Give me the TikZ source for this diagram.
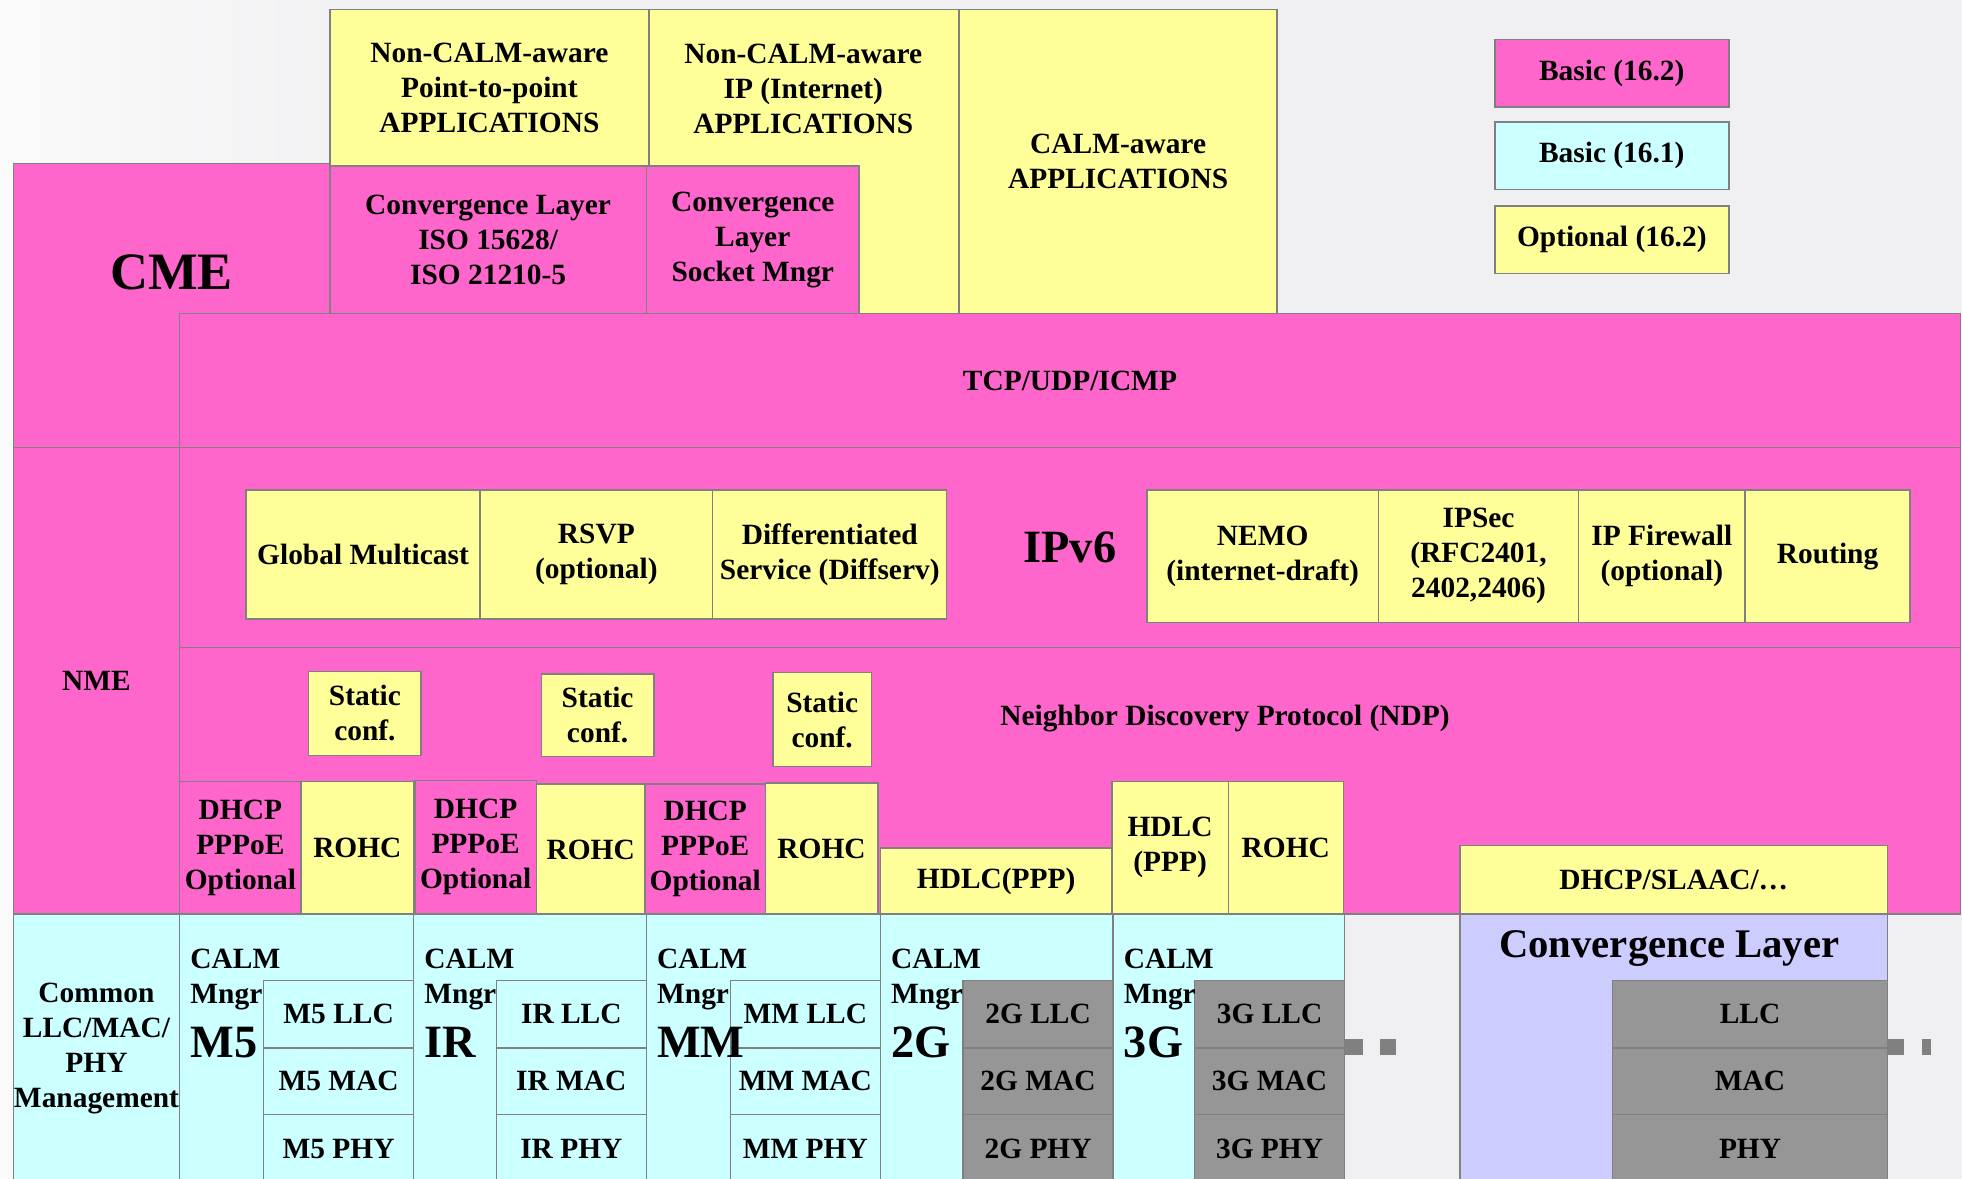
\documentclass[tikz,border=0pt]{standalone}
\usepackage{fontspec}
\setmainfont{Liberation Serif}
\definecolor{pinkc}{HTML}{FF66CC}
\definecolor{yelc}{HTML}{FFFF99}
\definecolor{cyanc}{HTML}{CCFFFF}
\definecolor{lavc}{HTML}{CCCCFF}
\definecolor{grayc}{HTML}{969696}
\definecolor{edgec}{HTML}{808080}
\definecolor{bgc}{HTML}{F0F0F2}
\tikzset{
  blk/.style={draw=edgec, line width=1.2pt, inner sep=0pt, anchor=north west,
    align=center, font=\fontsize{23.5}{28}\selectfont\bfseries},
  sz/.style 2 args={minimum width=#1pt, minimum height=#2pt},
  pk/.style={blk, fill=pinkc},
  yl/.style={blk, fill=yelc},
  cy/.style={blk, fill=cyanc},
  gr/.style={blk, fill=grayc},
  txt/.style={inner sep=0pt, align=center, font=\fontsize{23.5}{28}\selectfont\bfseries},
  bigtxt/.style={inner sep=0pt, font=\fontsize{37}{37}\selectfont\bfseries}
}
\begin{document}
\begin{tikzpicture}[x=1pt, y=-1pt]
    \useasboundingbox (0,0) rectangle (1568,942);
    \clip (0,0) rectangle (1568,942);
    \fill[bgc] (0,0) rectangle (1568,942);
    \shade[left color=white!70!bgc, right color=bgc] (0,0) rectangle (330,942);

    \node[yl, sz={248}{243}] (ipapps) at (518,7) {};
    \node[txt] (ipappstxt) at (642,71) {Non-CALM-aware\\IP (Internet)\\APPLICATIONS};
    \node[yl, sz={254}{243}] (calmapps) at (766,7) {CALM-aware\\APPLICATIONS};
    \node[yl, sz={255}{125}] (p2papps) at (263,7) {Non-CALM-aware\\Point-to-point\\APPLICATIONS};

    \node[pk, sz={187}{54}] (leg162) at (1194,31) {Basic (16.2)};
    \node[cy, sz={187}{54}] (leg161) at (1194,97) {Basic (16.1)};
    \node[yl, sz={187}{54}] (legopt) at (1194,164) {Optional (16.2)};

    \node[pk, sz={253}{227}] (cme) at (10,130) {};
    \node[inner sep=0pt, font=\fontsize{42}{42}\selectfont\bfseries] (cmetxt) at (137,218) {CME};
    \node[pk, sz={253}{118}] (cliso) at (263,132) {Convergence Layer\\ISO 15628/\\ISO 21210-5};
    \node[pk, sz={170}{118}] (clsock) at (516,132) {Convergence\\Layer\\Socket Mngr};
    \node[pk, sz={1423}{107}] (tcp) at (143,250) {TCP/UDP/ICMP};
    \node[pk, sz={133}{373}] (nme) at (10,357) {NME};
    \node[pk, sz={1423}{160}, font=\fontsize{37}{37}\selectfont\bfseries] (ipv6) at (143,357) {IPv6};
    \node[pk, sz={1423}{213}] (ndp) at (143,517) {};
    \node[txt] (ndptxt) at (979,574) {Neighbor Discovery Protocol (NDP)};

    \node[yl, sz={187}{103}] (gmcast) at (196,391) {Global Multicast};
    \node[yl, sz={186}{103}] (rsvp) at (383,391) {RSVP\\(optional)};
    \node[yl, sz={187}{103}] (diffserv) at (569,391) {Differentiated\\Service (Diffserv)};
    \node[yl, sz={185}{106}] (nemo) at (916,391) {NEMO\\(internet-draft)};
    \node[yl, sz={160}{106}] (ipsec) at (1101,391) {IPSec\\(RFC2401,\\2402,2406)};
    \node[yl, sz={133}{106}] (firewall) at (1261,391) {IP Firewall\\(optional)};
    \node[yl, sz={132}{106}] (routing) at (1394,391) {Routing};

    \node[yl, sz={90}{67}] (static1) at (246,536) {Static\\conf.};
    \node[yl, sz={90}{66}] (static2) at (432,538) {Static\\conf.};
    \node[yl, sz={79}{75}] (static3) at (617,537) {Static\\conf.};

    \node[pk, sz={97}{106}] (dhcp1) at (143,624) {DHCP\\PPPoE\\Optional};
    \node[yl, sz={90}{106}] (rohc1) at (240,624) {ROHC};
    \node[pk, sz={97}{107}] (dhcp2) at (331,623) {DHCP\\PPPoE\\Optional};
    \node[yl, sz={87}{105}] (rohc2) at (428,626) {ROHC};
    \node[pk, sz={96}{104}] (dhcp3) at (515,626) {DHCP\\PPPoE\\Optional};
    \node[yl, sz={90}{105}] (rohc3) at (611,625) {ROHC};
    \node[yl, sz={185}{53}] (hdlc) at (703,677) {HDLC(PPP)};
    \node[yl, sz={93}{106}] (hdlcppp) at (888,624) {HDLC\\(PPP)};
    \node[yl, sz={92}{106}] (rohc4) at (981,624) {ROHC};
    \node[yl, sz={342}{55}] (slaac) at (1166,675) {DHCP/SLAAC/\ldots};

    \fill[edgec] (1074,830) rectangle (1089,843);
    \fill[edgec] (1103,830) rectangle (1116,843);
    \fill[edgec] (1508,830) rectangle (1522,843);
    \fill[edgec] (1536,830) rectangle (1543,843);

    \node[cy, sz={133}{215}] (common) at (10,730) {Common\\LLC/MAC/\\PHY\\Management};
    \foreach \x/\w/\ix/\n/\lab/\c in {143/187/210/m5/M5/cyanc, 330/186/396/ir/IR/cyanc,
        516/187/583/mm/MM/cyanc, 703/186/769/tg/2G/grayc, 889/185/954/th/3G/grayc} {
      \node[cy, sz={\w}{215}] (col\n) at (\x,730) {};
      \node[blk, fill=\c, sz={120}{54}] (llc\n) at (\ix,783) {\lab{} LLC};
      \node[blk, fill=\c, sz={120}{53}] (mac\n) at (\ix,837) {\lab{} MAC};
      \node[blk, fill=\c, sz={120}{55}] (phy\n) at (\ix,890) {\lab{} PHY};
      \node[txt, anchor=base west] (calm\n) at (\x+9,774) {CALM};
      \node[txt, anchor=base west] (mngr\n) at (\x+9,802) {Mngr};
      \node[bigtxt, anchor=base west] (tech\n) at (\x+9,845) {\lab};
    }

    \node[blk, fill=lavc, sz={342}{215}] (convl) at (1166,730) {};
    \node[inner sep=0pt, font=\fontsize{32.5}{32.5}\selectfont\bfseries] (convltxt) at (1334,758) {Convergence Layer};
    \node[gr, sz={220}{54}] (clllc) at (1288,783) {LLC};
    \node[gr, sz={220}{53}] (clmac) at (1288,837) {MAC};
    \node[gr, sz={220}{55}] (clphy) at (1288,890) {PHY};
\end{tikzpicture}
\end{document}
